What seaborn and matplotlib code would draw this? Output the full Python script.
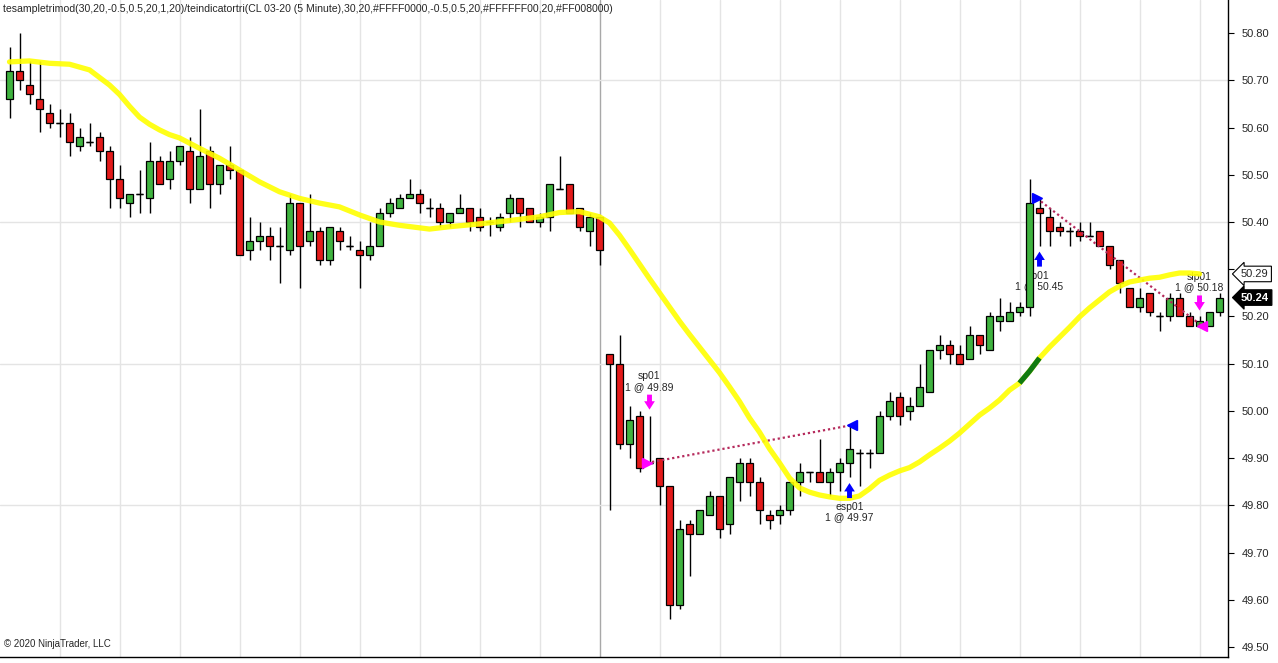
import matplotlib
matplotlib.use("Agg")
import matplotlib.pyplot as plt
from matplotlib.transforms import blended_transform_factory, offset_copy
import numpy as np
import pandas as pd
import seaborn as sns

TITLE = ("tesampletrimod(30,20,-0.5,0.5,20,1,20)/teindicatortri(CL 03-20 (5 Minute),"
         "30,20,#FFFF0000,-0.5,0.5,20,#FFFFFF00,20,#FF008000)")
COPYRIGHT = "\u00a9 2020 NinjaTrader, LLC"

# 5 minute bars
OPEN = [50.66, 50.72, 50.69, 50.66, 50.63, 50.61, 50.61, 50.56, 50.57, 50.58,
        50.55, 50.49, 50.44, 50.46, 50.45, 50.53, 50.49, 50.53, 50.55, 50.47,
        50.55, 50.48, 50.52, 50.51, 50.34, 50.36, 50.37, 50.35, 50.34, 50.44,
        50.36, 50.38, 50.32, 50.38, 50.35, 50.34, 50.33, 50.35, 50.42, 50.43,
        50.45, 50.46, 50.43, 50.43, 50.40, 50.42, 50.43, 50.41, 50.40, 50.39,
        50.42, 50.45, 50.43, 50.40, 50.41, 50.47, 50.48, 50.43, 50.38, 50.41,
        50.12, 50.10, 49.93, 49.99, 49.89, 49.90, 49.84, 49.59, 49.76, 49.74,
        49.78, 49.82, 49.76, 49.85, 49.89, 49.85, 49.78, 49.78, 49.79, 49.85,
        49.87, 49.87, 49.85, 49.87, 49.89, 49.91, 49.91, 49.91, 49.99, 50.03,
        50.00, 50.01, 50.04, 50.13, 50.14, 50.12, 50.11, 50.16, 50.13, 50.19,
        50.19, 50.21, 50.22, 50.43, 50.41, 50.39, 50.38, 50.38, 50.37, 50.38,
        50.35, 50.32, 50.26, 50.22, 50.25, 50.20, 50.20, 50.24, 50.20, 50.18,
        50.18, 50.21]
HIGH = [50.77, 50.80, 50.74, 50.74, 50.65, 50.64, 50.63, 50.60, 50.61, 50.59,
        50.56, 50.52, 50.46, 50.51, 50.57, 50.54, 50.55, 50.56, 50.58, 50.64,
        50.56, 50.52, 50.56, 50.51, 50.41, 50.40, 50.39, 50.39, 50.46, 50.44,
        50.46, 50.39, 50.39, 50.39, 50.37, 50.36, 50.40, 50.43, 50.45, 50.46,
        50.49, 50.47, 50.45, 50.44, 50.42, 50.46, 50.43, 50.43, 50.41, 50.42,
        50.46, 50.45, 50.43, 50.42, 50.48, 50.54, 50.48, 50.43, 50.42, 50.41,
        50.12, 50.16, 50.01, 50.00, 49.99, 49.90, 49.84, 49.77, 49.77, 49.79,
        49.83, 49.82, 49.86, 49.90, 49.90, 49.86, 49.79, 49.80, 49.85, 49.89,
        49.87, 49.94, 49.88, 49.90, 49.97, 49.92, 49.92, 50.00, 50.04, 50.04,
        50.03, 50.10, 50.13, 50.16, 50.15, 50.14, 50.18, 50.16, 50.21, 50.24,
        50.23, 50.23, 50.49, 50.45, 50.43, 50.40, 50.39, 50.40, 50.40, 50.38,
        50.35, 50.32, 50.26, 50.26, 50.25, 50.21, 50.25, 50.25, 50.21, 50.20,
        50.21, 50.25]
LOW = [50.62, 50.68, 50.65, 50.59, 50.60, 50.58, 50.54, 50.55, 50.56, 50.53,
       50.43, 50.43, 50.41, 50.42, 50.42, 50.48, 50.47, 50.52, 50.44, 50.47,
       50.43, 50.46, 50.49, 50.33, 50.32, 50.34, 50.32, 50.27, 50.33, 50.26,
       50.35, 50.31, 50.31, 50.34, 50.34, 50.26, 50.32, 50.35, 50.41, 50.43,
       50.45, 50.42, 50.41, 50.39, 50.39, 50.42, 50.38, 50.38, 50.37, 50.38,
       50.40, 50.39, 50.40, 50.39, 50.38, 50.47, 50.42, 50.38, 50.35, 50.31,
       49.79, 49.92, 49.90, 49.87, 49.89, 49.80, 49.56, 49.58, 49.65, 49.74,
       49.78, 49.73, 49.74, 49.81, 49.82, 49.76, 49.75, 49.76, 49.78, 49.82,
       49.85, 49.85, 49.82, 49.83, 49.86, 49.84, 49.88, 49.91, 49.98, 49.97,
       49.98, 50.01, 50.04, 50.11, 50.10, 50.10, 50.11, 50.12, 50.13, 50.17,
       50.19, 50.20, 50.20, 50.35, 50.35, 50.37, 50.35, 50.36, 50.37, 50.35,
       50.30, 50.25, 50.22, 50.21, 50.20, 50.17, 50.19, 50.20, 50.18, 50.18,
       50.18, 50.20]
CLOSE = [50.72, 50.70, 50.67, 50.64, 50.61, 50.61, 50.57, 50.58, 50.57, 50.55,
         50.49, 50.45, 50.46, 50.46, 50.53, 50.48, 50.53, 50.56, 50.47, 50.54,
         50.48, 50.52, 50.51, 50.33, 50.36, 50.37, 50.35, 50.35, 50.44, 50.35,
         50.38, 50.32, 50.39, 50.36, 50.35, 50.33, 50.35, 50.42, 50.44, 50.45,
         50.46, 50.44, 50.43, 50.40, 50.42, 50.43, 50.40, 50.39, 50.40, 50.41,
         50.45, 50.42, 50.40, 50.41, 50.48, 50.47, 50.42, 50.39, 50.41, 50.34,
         50.10, 49.93, 49.98, 49.88, 49.89, 49.84, 49.59, 49.75, 49.74, 49.79,
         49.82, 49.75, 49.86, 49.89, 49.85, 49.79, 49.77, 49.79, 49.85, 49.87,
         49.87, 49.85, 49.87, 49.89, 49.92, 49.91, 49.91, 49.99, 50.02, 49.99,
         50.01, 50.05, 50.13, 50.14, 50.12, 50.10, 50.16, 50.14, 50.20, 50.20,
         50.21, 50.22, 50.44, 50.42, 50.38, 50.38, 50.38, 50.37, 50.37, 50.35,
         50.31, 50.27, 50.22, 50.24, 50.21, 50.20, 50.24, 50.20, 50.18, 50.19,
         50.21, 50.24]

# teindicatortri line (bar index -> value)
TRI_BAR = [0, 2, 4, 6, 8, 10, 11, 12, 13, 14, 15, 16, 17, 19, 21, 23, 25, 27,
           29, 31, 33, 35, 37, 39, 42, 44, 47, 50, 53, 55, 57, 59, 60, 61, 62,
           63, 64, 65, 66, 67, 68, 69, 70, 71, 72, 73, 74, 75, 76, 77, 78, 79,
           80, 81, 82, 83, 84, 85, 86, 87, 88, 89, 90, 91, 92, 93, 94, 95, 96,
           97, 98, 99, 100, 101, 102, 103, 104, 105, 106, 107, 108, 109, 110,
           111, 112, 113, 114, 115, 116, 117, 118, 119]
TRI_VAL = [50.739, 50.741, 50.736, 50.734, 50.722, 50.690, 50.670, 50.645,
           50.622, 50.607, 50.595, 50.585, 50.578, 50.556, 50.535, 50.510,
           50.485, 50.464, 50.450, 50.440, 50.432, 50.415, 50.400, 50.393,
           50.385, 50.390, 50.396, 50.403, 50.411, 50.420, 50.422, 50.411,
           50.398, 50.372, 50.342, 50.311, 50.280, 50.250, 50.220, 50.190,
           50.162, 50.135, 50.108, 50.081, 50.051, 50.020, 49.985, 49.955,
           49.920, 49.890, 49.858, 49.837, 49.828, 49.822, 49.818, 49.815,
           49.815, 49.820, 49.835, 49.853, 49.864, 49.873, 49.880, 49.892,
           49.907, 49.921, 49.936, 49.953, 49.972, 49.991, 50.006, 50.023,
           50.044, 50.059, 50.084, 50.112, 50.135, 50.156, 50.177, 50.199,
           50.218, 50.235, 50.252, 50.264, 50.273, 50.277, 50.281, 50.283,
           50.288, 50.292, 50.292, 50.290]
TRI_UP_BARS = (101, 103)  # segment drawn in the "up" colour

# executions
TRADE_NAME = ["sp01", "esp01", "lp01", "slp01"]
TRADE_BAR = [64, 84, 103, 119]
TRADE_PRICE = [49.89, 49.97, 50.45, 50.18]
TRADE_SELL = [True, False, False, True]

GRID_PRICES = [50.70, 50.40, 50.10, 49.80]
YTICKS = [49.50, 49.60, 49.70, 49.80, 49.90, 50.00, 50.10, 50.20, 50.30,
          50.40, 50.50, 50.60, 50.70, 50.80]
HIDDEN_TICK = 50.30  # covered by the indicator price tag
SESSION_BREAK = 59

UP_COLOR = "#3fb33f"
DOWN_COLOR = "#e31a1a"
SELL_COLOR = "#ff00ff"
BUY_COLOR = "#0000ff"
ARROW = "simple,head_width=0.7,head_length=0.55,tail_width=0.32"

sns.set_style("white")
plt.rcParams["font.family"] = ["Liberation Sans", "DejaVu Sans"]

bars = pd.DataFrame({"open": OPEN, "high": HIGH, "low": LOW, "close": CLOSE})
bars["bar"] = np.arange(len(bars))
bars["up"] = bars["close"] >= bars["open"]
tri = pd.DataFrame({"bar": TRI_BAR, "value": TRI_VAL})

fig = plt.figure(figsize=(12.78, 6.63), dpi=100)
ax = fig.add_axes([0, 6 / 663, 1228 / 1278, 657 / 663])
ax.set_xlim(-0.95, len(bars) - 0.15)
ax.set_ylim(49.479, 50.870)

# grid
grid_bars = list(range(5, len(bars), 6))
for b in grid_bars:
    ax.axvline(b, color="#a8a8a8" if b == SESSION_BREAK else "#e4e4e4", lw=1, zorder=0)
for p in GRID_PRICES:
    ax.axhline(p, color="#e4e4e4", lw=1, zorder=0)

# candles
ax.vlines(bars["bar"], bars["low"], bars["high"], color="black", lw=1, zorder=2)
body_lo = bars[["open", "close"]].min(axis=1)
body_h = (bars["close"] - bars["open"]).abs()
ax.bar(bars["bar"], body_h, bottom=body_lo, width=0.62,
       color=np.where(bars["up"], UP_COLOR, DOWN_COLOR),
       edgecolor="black", linewidth=0.9, zorder=3)
doji = bars[body_h < 0.001]
ax.hlines(doji["close"], doji["bar"] - 0.31, doji["bar"] + 0.31, color="black", lw=1, zorder=3)

# executions: arrow + label
for name, b, price, sell in zip(TRADE_NAME, TRADE_BAR, TRADE_PRICE, TRADE_SELL):
    col = SELL_COLOR if sell else BUY_COLOR
    label = f"{name}\n1 @ {price:.2f}"
    if sell:
        anchor, gap, tail, txt, va = HIGH[b], 6, 15, 24, "bottom"
    else:
        anchor, gap, tail, txt, va = LOW[b], -6, -15, -25, "top"
    tip = offset_copy(ax.transData, fig=fig, x=0, y=gap, units="dots")
    ax.annotate("", xy=(b, anchor), xycoords=tip, xytext=(0, tail), textcoords="offset pixels",
                arrowprops=dict(arrowstyle=ARROW, color=col, lw=0, shrinkA=0, shrinkB=0,
                                mutation_scale=11), zorder=5)
    ax.annotate(label, xy=(b, anchor), xytext=(0, txt), textcoords="offset pixels",
                ha="center", va=va, fontsize=7.5, linespacing=1.05, zorder=2.5)

# entry -> exit connectors
for i in (0, 2):
    x0, x1 = TRADE_BAR[i] - 0.25, TRADE_BAR[i + 1] + 0.25
    y0, y1 = TRADE_PRICE[i], TRADE_PRICE[i + 1]
    ax.plot([x0, x1], [y0, y1], color="#b52a5c", lw=1.6, ls=(0, (1, 1.3)), zorder=4)
    ent_col = SELL_COLOR if TRADE_SELL[i] else BUY_COLOR
    ext_col = SELL_COLOR if TRADE_SELL[i + 1] else BUY_COLOR
    ax.plot(x0, y0, marker=">", ms=7, color=ent_col, mec=ent_col, zorder=5)
    ax.plot(x1, y1, marker="<", ms=7, color=ext_col, mec=ext_col, zorder=5)

# indicator line
sns.lineplot(data=tri, x="bar", y="value", ax=ax, color="#ffff00", lw=3.8,
             alpha=0.9, estimator=None, sort=False, zorder=4.5, legend=False)
ax.lines[-1].set_solid_joinstyle("round")
seg = tri[(tri["bar"] >= TRI_UP_BARS[0]) & (tri["bar"] <= TRI_UP_BARS[1])]
ax.plot(seg["bar"], seg["value"], color="#107a10", lw=3.8, zorder=4.6, solid_capstyle="butt")

# axes
ax.set_xlabel("")
ax.set_ylabel("")
for s in ("top", "left"):
    ax.spines[s].set_visible(False)
for s in ("right", "bottom"):
    ax.spines[s].set_color("black")
    ax.spines[s].set_linewidth(1)
ax.set_xticks(grid_bars)
ax.tick_params(axis="x", length=5, width=0.8, color="black", labelbottom=False)
ax.yaxis.tick_right()
ax.set_yticks(YTICKS)
ax.set_yticklabels(["" if abs(v - HIDDEN_TICK) < 1e-9 else f"{v:.2f}" for v in YTICKS])
ax.tick_params(axis="y", length=4, width=0.8, color="black", pad=6, labelsize=8)

# price tags on the axis
trans = blended_transform_factory(ax.transAxes, ax.transData)
ax.annotate(f"{TRI_VAL[-1]:.2f}", xy=(1, TRI_VAL[-1]), xycoords=trans, xytext=(13, 0),
            textcoords="offset pixels", ha="left", va="center", fontsize=8,
            bbox=dict(boxstyle="larrow,pad=0.25", fc="white", ec="black", lw=0.8),
            annotation_clip=False, zorder=6)
ax.annotate(f"{CLOSE[-1]:.2f}", xy=(1, CLOSE[-1]), xycoords=trans, xytext=(13, 0),
            textcoords="offset pixels", ha="left", va="center", fontsize=8,
            color="white", fontweight="bold",
            bbox=dict(boxstyle="larrow,pad=0.25", fc="black", ec="black", lw=0.8),
            annotation_clip=False, zorder=6)

fig.text(3 / 1278, 1 - 9 / 663, TITLE, fontsize=7.6, ha="left", va="center")
fig.text(4 / 1278, 1 - 644 / 663, COPYRIGHT, fontsize=7, ha="left", va="center")

fig.savefig("out.png", dpi=100)
